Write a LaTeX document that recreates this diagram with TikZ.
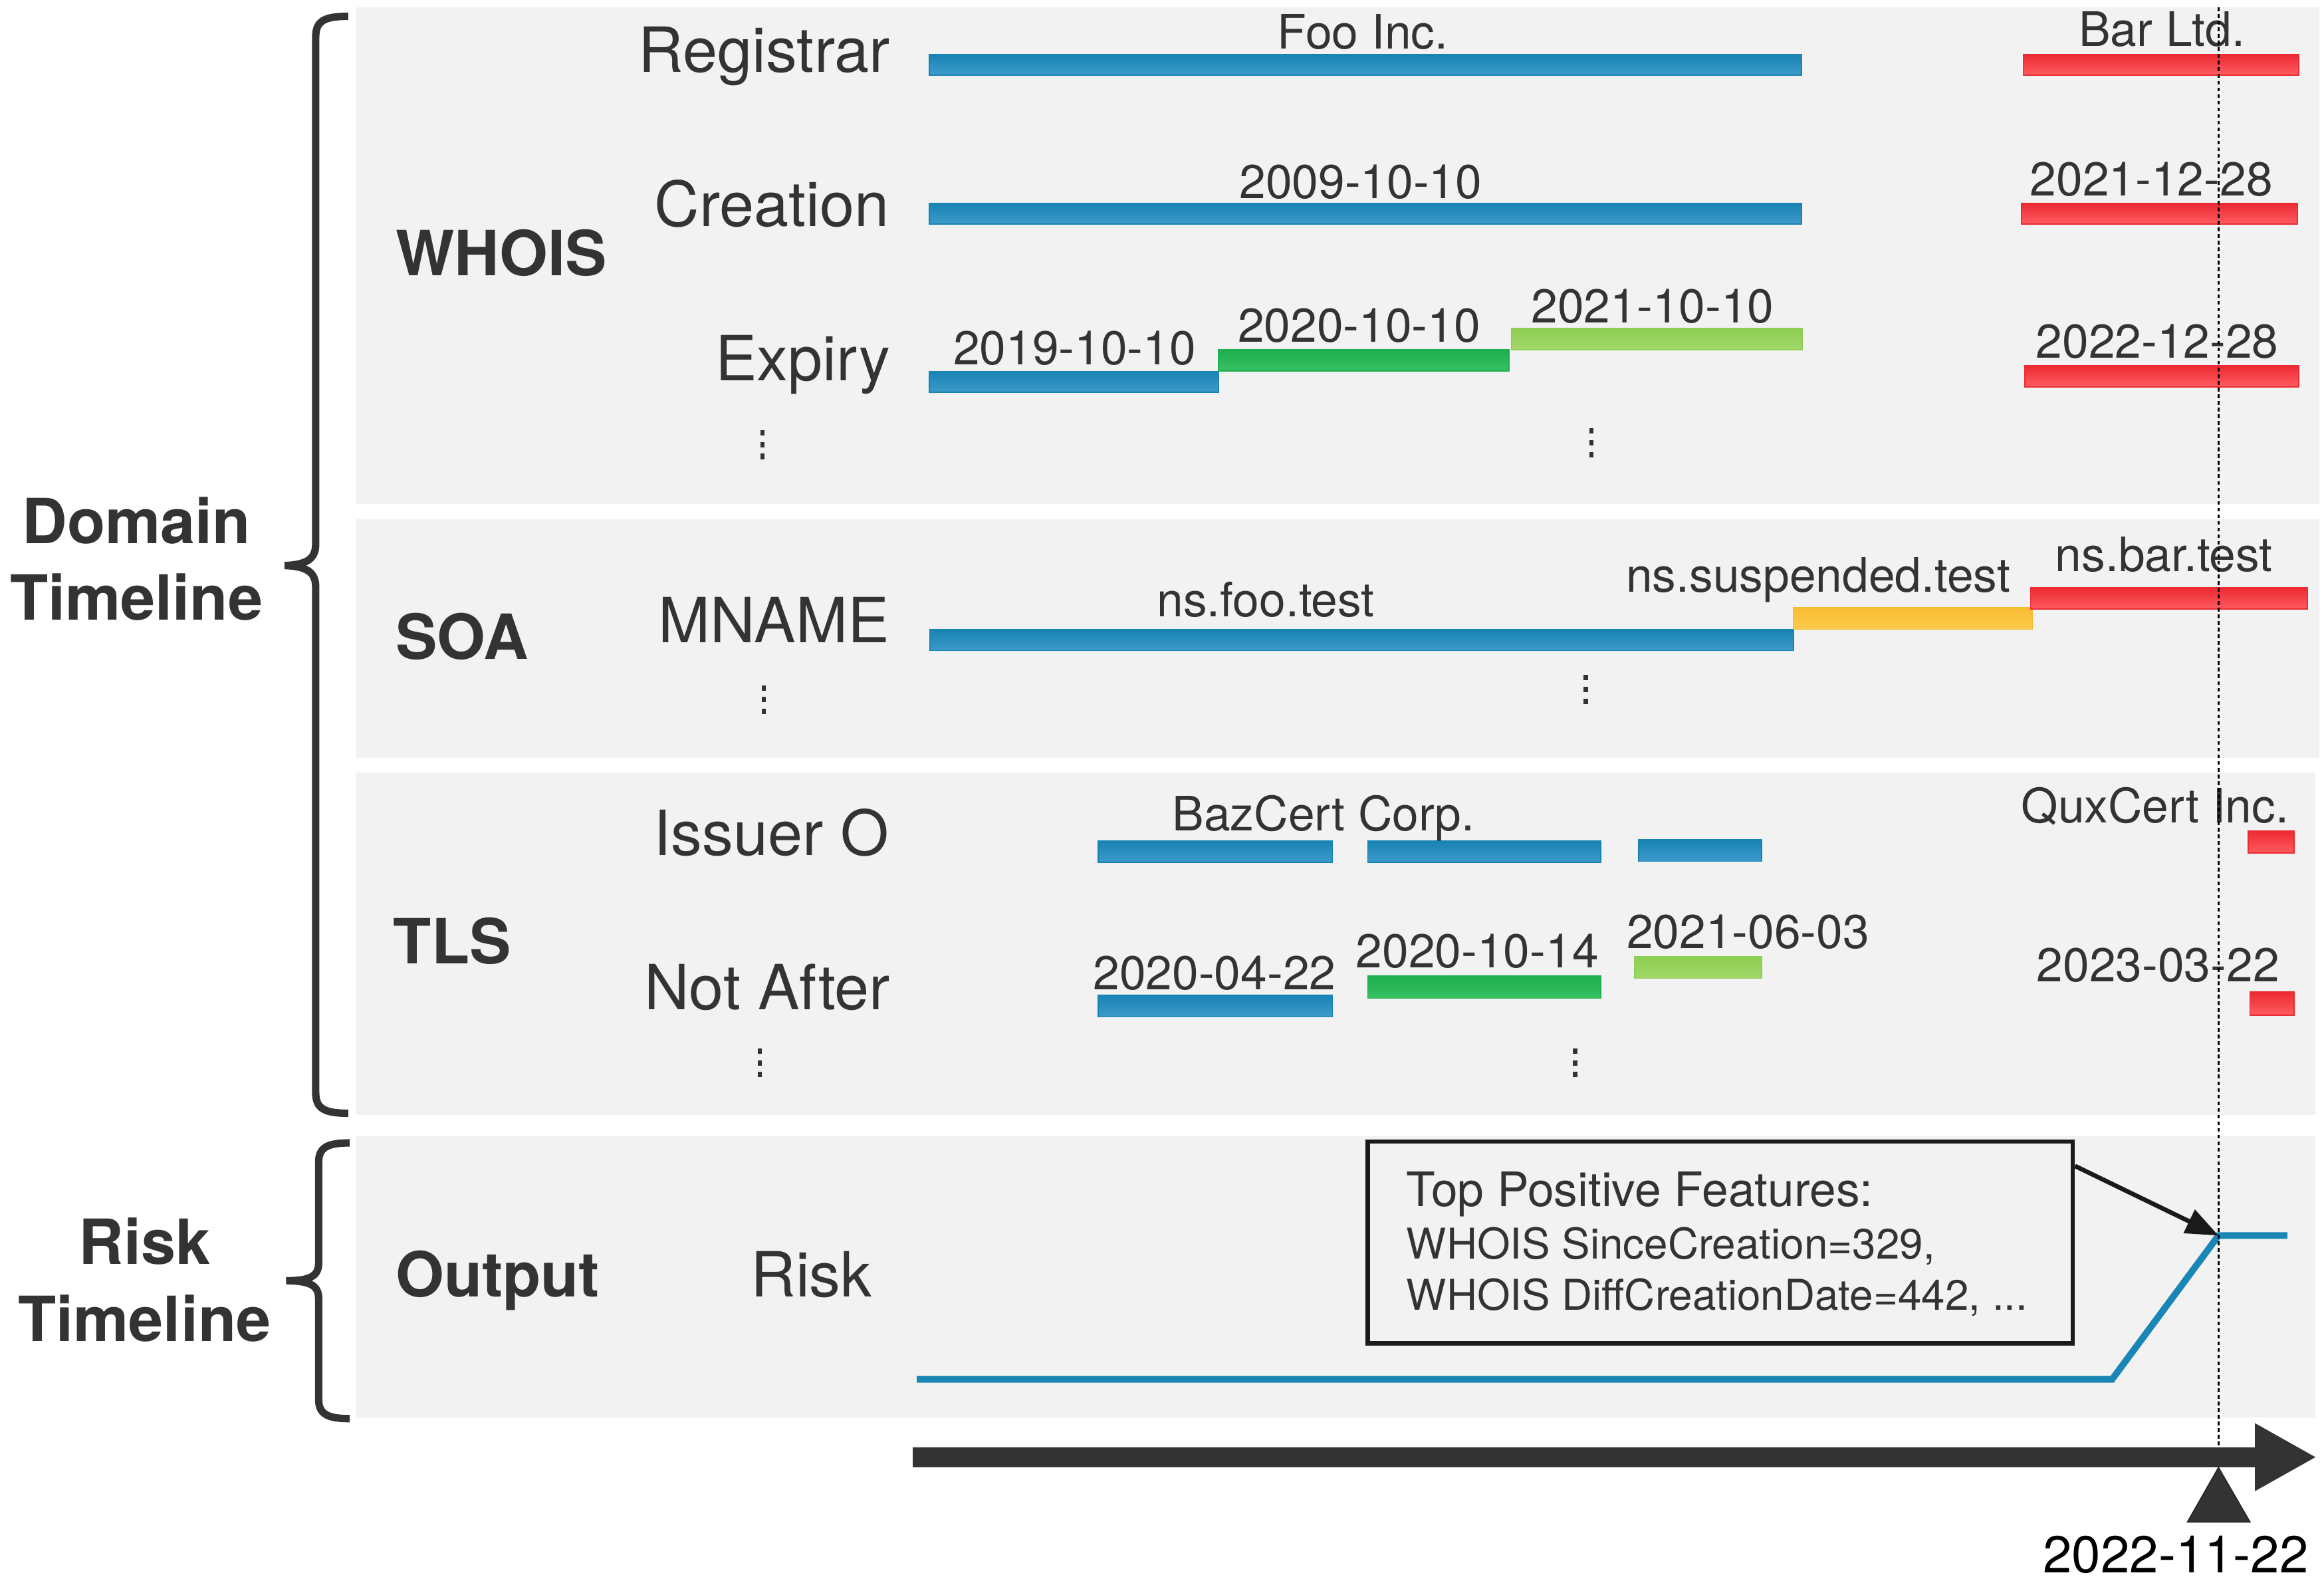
\documentclass[tikz,border=0pt]{standalone}
\usepackage{fontspec}
\setmainfont{TeX Gyre Heros}
\usetikzlibrary{arrows.meta}
\definecolor{txt}{HTML}{333333}
\definecolor{panel}{HTML}{F2F2F2}
\definecolor{boxc}{HTML}{1A1A1A}
\definecolor{cblue}{HTML}{1783B4}
\definecolor{cblueL}{HTML}{3E9BCB}
\definecolor{cgreen}{HTML}{1FAE50}
\definecolor{cgreenL}{HTML}{36C063}
\definecolor{clgreen}{HTML}{8ECE52}
\definecolor{clgreenL}{HTML}{A3D86B}
\definecolor{cred}{HTML}{EC2A33}
\definecolor{credL}{HTML}{FF5C60}
\definecolor{cyel}{HTML}{F8BC30}
\definecolor{cyelL}{HTML}{FFCB4E}
\definecolor{riskc}{HTML}{1A86B5}
\newcommand\mydots[2]{\foreach \k in {0,1,2}{\fill[txt] ({#1-1.5},{#2-9.5+\k*8-1.8}) rectangle ({#1+1.5},{#2-9.5+\k*8+1.8});}}
\tikzset{
  txtc/.style={text=txt, inner sep=0pt, outer sep=0pt},
  barlab/.style={txtc, font=\fontsize{32}{38}\selectfont, anchor=base},
  rowlab/.style={txtc, font=\fontsize{42}{50}\selectfont, anchor=base east},
  grplab/.style={txtc, font=\bfseries\fontsize{42}{50}\selectfont, anchor=base west},
  sidelab/.style={txtc, font=\bfseries\fontsize{42}{51.7}\selectfont, align=center},
  featlab/.style={txtc, anchor=base west},
  bblue/.style={top color=cblue, bottom color=cblueL, draw=cblue, line width=0.8pt},
  bgreen/.style={top color=cgreen, bottom color=cgreenL, draw=cgreen, line width=0.8pt},
  blgreen/.style={top color=clgreen, bottom color=clgreenL, draw=clgreen, line width=0.8pt},
  bred/.style={top color=cred, bottom color=credL, draw=cred, line width=0.8pt},
  byel/.style={top color=cyel, bottom color=cyelL, draw=cyel, line width=0.8pt},
  bracestyle/.style={draw=txt, line width=5pt},
  panelbox/.style={fill=panel},
}
\begin{document}
\begin{tikzpicture}[x=1pt,y=-1pt]
\useasboundingbox (0,0) rectangle (1568,1069);
\fill[white] (0,0) rectangle (1568,1069);

% panels
\path[panelbox] (240.4,5) rectangle (1565,339.8);
\path[panelbox] (240.4,350.5) rectangle (1565,511.4);
\path[panelbox] (240.4,521.2) rectangle (1562,752);
\path[panelbox] (240.4,766.3) rectangle (1562,956.3);

% braces
\draw[bracestyle] (235,11) .. controls (219,11) and (213,14) .. (213,25) -- (213,367)
  .. controls (213,377) and (207,381) .. (192,381.5)
  .. controls (207,382) and (213,386) .. (213,396) -- (213,737)
  .. controls (213,748) and (219,751) .. (235,751);
\draw[bracestyle] (236,771) .. controls (221,771) and (215,774) .. (215,784) -- (215,852)
  .. controls (215,861) and (209,864) .. (193,864)
  .. controls (209,864) and (215,867) .. (215,876) -- (215,944)
  .. controls (215,954) and (221,957) .. (236,957);

% side labels
\node[sidelab] (domtl) at (92,376.9) {Domain\\Timeline};
\node[sidelab] (risktl) at (97.5,863.4) {Risk\\Timeline};

% group labels
\node[grplab] (whois) at (267,185.8) {WHOIS};
\node[grplab] (soa) at (267,444.5) {SOA};
\node[grplab] (tls) at (265.5,650.3) {TLS};
\node[grplab] (output) at (267,874.9) {Output};

% row labels
\node[rowlab] (registrar) at (600.5,48.7) {Registrar};
\node[rowlab] (creation) at (600,152.9) {Creation};
\node[rowlab] (expiry) at (600.5,256.7) {Expiry};
\node[rowlab] (mname) at (600,433.7) {MNAME};
\node[rowlab] (issuer) at (600,576.8) {Issuer O};
\node[rowlab] (notafter) at (600.5,681) {Not After};
\node[txtc, font=\fontsize{42}{50}\selectfont, anchor=base west] (risk) at (506.6,874.9) {Risk};

% vertical dots
\mydots{514.5}{301.4}
\mydots{1073.7}{300.3}
\mydots{515.4}{473.5}
\mydots{1070}{466.5}
\mydots{512.6}{718.5}
\mydots{1062.8}{718.5}

% WHOIS bars
\path[bblue] (627,36.6) rectangle (1215.5,50.8);
\path[bred] (1365,36.6) rectangle (1551,50.8);
\path[bblue] (627,137.3) rectangle (1215.5,151);
\path[bred] (1364,137.3) rectangle (1550,151);
\path[bblue] (627,250.6) rectangle (822,264.7);
\path[bgreen] (822,236) rectangle (1018,250.3);
\path[blgreen] (1020,221.5) rectangle (1216,236);
\path[bred] (1366,246.5) rectangle (1551,260.9);
% SOA bars
\path[bblue] (627.5,424.7) rectangle (1210,438.9);
\path[byel] (1210,410) rectangle (1371,424.5);
\path[bred] (1370,396.5) rectangle (1556.8,411);
% TLS bars
\path[bblue] (741,567.4) rectangle (899,581.8);
\path[bblue] (922.8,567.4) rectangle (1080,581.8);
\path[bblue] (1105.7,566.6) rectangle (1188.6,581);
\path[bred] (1517,560.6) rectangle (1547.7,575.5);
\path[bblue] (741,671.5) rectangle (899,686);
\path[bgreen] (922.8,658.5) rectangle (1080,673.4);
\path[blgreen] (1103,645.5) rectangle (1188.6,660);
\path[bred] (1518,669) rectangle (1547.7,685);

% bar labels
\node[barlab] (l1) at (919.5,33) {Foo Inc.};
\node[barlab] (l2) at (1458.6,31) {Bar Ltd.};
\node[barlab] (l3) at (918,134) {2009-10-10};
\node[barlab] (l4) at (1451.5,132.3) {2021-12-28};
\node[barlab] (l5) at (725,246) {2019-10-10};
\node[barlab] (l6) at (917,230.6) {2020-10-10};
\node[barlab] (l7) at (1115,217.8) {2021-10-10};
\node[barlab] (l8) at (1455.5,241.4) {2022-12-28};
\node[barlab] (l9) at (854,415.8) {ns.foo.test};
\node[barlab] (l10) at (1226.7,399.4) {ns.suspended.test};
\node[barlab] (l11) at (1460,385.3) {ns.bar.test};
\node[barlab] (l12) at (893,560.6) {BazCert Corp.};
\node[barlab] (l13) at (1454,555.2) {QuxCert Inc.};
\node[barlab] (l14) at (819.4,667.4) {2020-04-22};
\node[barlab] (l15) at (996.7,652.6) {2020-10-14};
\node[barlab] (l16) at (1179.4,640) {2021-06-03};
\node[barlab] (l17) at (1456,662) {2023-03-22};

% risk line
\coordinate (r0) at (618.5,930.5);
\coordinate (r1) at (1425,930.5);
\coordinate (peak) at (1496.8,833.5);
\coordinate (r3) at (1543.3,833.5);
\draw[riskc, line width=4.5pt] (r0) -- (r1) -- (peak) -- (r3);

% feature box
\node[draw=boxc, line width=3pt, minimum width=475.7pt, minimum height=136.3pt, inner sep=0pt] (feat) at (1160.6,838.2) {};
\node[featlab, font=\fontsize{32}{38}\selectfont] (f1) at (949,813.6) {Top Positive Features:};
\node[featlab, font=\fontsize{28.6}{34}\selectfont] (f2) at (949,849.2) {WHOIS SinceCreation=329,};
\node[featlab, font=\fontsize{28.6}{34}\selectfont] (f3) at (949,883.9) {WHOIS DiffCreationDate=442, ...};
\draw[boxc, line width=3pt, -{Triangle[length=22pt,width=17pt]}] ([yshift=-18pt]feat.north east) -- (peak);

% dotted current-date line
\draw[black, line width=1.3pt, dash pattern=on 2.5pt off 2pt] (1496.8,5) -- (1496.8,988);

% time arrow
\coordinate (t0) at (615.8,983);
\coordinate (t1) at (1563,983);
\draw[txt, line width=13.6pt, -{Triangle[length=41.6pt,width=42.6pt]}] (t0) -- (t1);

% date marker
\filldraw[txt, draw=black!85, line width=0.8pt] (1496.8,990) -- (1518,1026.7) -- (1475.9,1026.7) -- cycle;
\node[inner sep=0pt, text=black, font=\fontsize{35}{42}\selectfont, anchor=base] (date) at (1468,1061) {2022-11-22};
\end{tikzpicture}
\end{document}
